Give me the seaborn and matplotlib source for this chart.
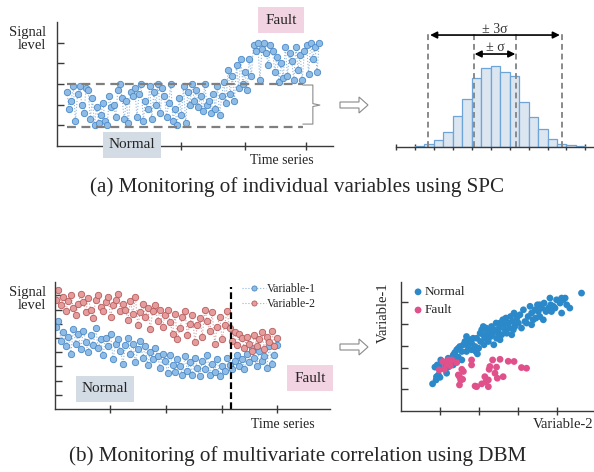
import numpy as np
import pandas as pd
import matplotlib
matplotlib.use('Agg')
import matplotlib.pyplot as plt
from matplotlib.patches import FancyArrow
import seaborn as sns

# --- (a) single variable time series (signal level per sample)
spc_signal = [
    2.6, 1.8, 2.2, 2.9, 1.2, 2.5, 2.9, 2.0, 1.6, 2.8,
    2.7, 1.3, 2.3, 1.0, 1.9, 1.1, 1.5, 2.1, 1.2, 1.0,
    2.4, 1.9, 2.0, 1.4, 2.7, 3.0, 2.3, 1.3, 2.2, 1.1,
    2.6, 2.4, 2.8, 1.4, 2.5, 3.0, 1.2, 2.2, 1.8, 2.9,
    1.3, 2.6, 2.0, 3.0, 1.6, 2.8, 2.4, 1.4, 2.1, 3.0,
    1.2, 1.8, 1.0, 2.3, 1.5, 2.9, 1.1, 2.6, 2.0, 3.0,
    2.2, 2.7, 1.9, 2.4, 1.7, 3.0, 2.0, 2.2, 1.6, 2.5,
    1.8, 2.9, 1.5, 2.4, 3.1, 2.1, 3.7, 2.5, 3.4, 2.2,
    3.9, 2.8, 4.2, 3.0, 3.6, 2.7, 4.2, 3.4, 4.9, 4.6,
    5.0, 3.2, 4.7, 5.0, 4.5, 3.9, 4.9, 4.6, 3.6, 4.3,
    3.1, 4.0, 3.3, 4.8, 3.4, 4.5, 4.1, 3.2, 4.8, 3.7,
    4.4, 3.2, 4.6, 4.9, 3.5, 5.0, 4.2, 4.8, 3.6, 5.0,
]
spc_limits = [0.92, 3.0]

# --- (a) histogram of the normal data
hist_counts = [2, 5, 11, 23, 46, 72, 103, 118, 121, 112, 106, 67, 45, 27, 12, 5, 3, 1]
sigma1 = [6.2, 10.7]
sigma3 = [1.4, 15.5]

# --- (b) two correlated variables
var2 = [
    7.7, 8.4, 7.3, 7.9, 6.9, 7.6, 8.0, 7.1, 6.6, 7.4,
    8.1, 7.5, 6.8, 7.8, 7.0, 6.4, 7.7, 8.0, 7.2, 6.9,
    7.5, 7.9, 6.5, 7.3, 7.7, 8.1, 6.9, 7.4, 7.0, 6.3,
    7.6, 6.7, 7.9, 5.9, 6.8, 7.4, 6.5, 7.1, 5.6, 6.9,
    7.3, 6.2, 7.0, 5.8, 6.6, 7.0, 6.1, 5.3, 6.7, 4.9,
    5.7, 6.5, 6.9, 5.2, 6.0, 6.6, 4.7, 5.9, 6.4, 5.1,
    7.0, 6.2, 5.5, 6.8, 4.6, 5.8, 6.5, 4.9, 5.9, 6.9,
    5.7, 4.8, 5.4, 4.5, 5.3, 5.0, 4.3, 5.1, 4.6, 4.1,
    5.2, 4.4, 4.9, 5.4, 4.2, 5.1, 4.7, 5.5, 4.4, 5.0,
]
var1 = [
    5.8, 6.2, 4.8, 5.4, 4.4, 5.1, 3.9, 5.6, 4.6, 5.3,
    4.2, 5.5, 4.7, 4.0, 5.2, 4.5, 5.7, 4.3, 4.9, 3.8,
    5.0, 4.4, 5.3, 3.5, 4.6, 4.9, 4.1, 3.2, 4.5, 5.0,
    3.9, 4.6, 3.3, 4.2, 4.8, 3.6, 4.4, 3.1, 4.0, 3.5,
    4.3, 3.7, 2.9, 3.9, 3.4, 2.5, 3.8, 3.1, 2.6, 3.5,
    3.0, 2.4, 3.7, 2.7, 3.3, 2.4, 3.6, 2.9, 2.3, 3.4,
    2.8, 3.8, 2.4, 3.2, 2.6, 3.5, 2.3, 3.0, 2.7, 3.6,
    3.1, 2.8, 3.4, 3.8, 3.0, 3.5, 2.8, 3.9, 3.3, 4.3,
    3.6, 3.0, 4.1, 3.4, 3.7, 2.9, 4.4, 3.2, 3.8, 4.5,
]
fault_start = 70.6

# --- (b) scatter Variable-2 vs Variable-1
normal_x = [0.81, 0.90, 0.91, 0.96, 1.00, 0.87, 0.93, 0.98, 1.02, 1.09, 1.13, 1.17, 1.21, 1.26,
            1.30, 1.34, 1.38, 1.43, 1.47, 1.51, 1.56, 1.47, 1.38, 1.56, 1.60, 1.64, 1.68, 1.73,
            1.77, 1.81, 1.85, 1.90, 1.92, 1.96, 1.99, 2.03, 2.04, 2.07, 2.11, 2.13, 2.15, 2.18,
            2.21, 2.24, 2.26, 2.30, 2.32, 2.35, 2.38, 2.41, 2.44, 2.45, 2.50, 2.52, 2.54, 2.58,
            2.61, 2.64, 2.67, 2.69, 2.71, 2.75, 2.78, 2.81, 2.84, 2.86, 2.90, 2.92, 2.97, 3.01,
            3.05, 3.09, 3.14, 3.18, 3.22, 3.26, 3.31, 3.35, 3.39, 3.44, 3.46, 3.50, 3.52, 3.56,
            3.61, 3.65, 3.67, 3.72, 3.78, 3.82, 3.84, 3.86, 3.91, 3.95, 4.08, 4.12, 4.16, 4.21,
            4.25, 4.12, 4.33, 4.63, 1.68, 1.81, 1.94, 2.21, 2.54, 2.88, 3.35, 3.56, 3.99, 1.34,
            1.21, 1.68, 2.11]
normal_y = [1.25, 1.43, 1.58, 1.66, 1.55, 2.02, 2.12, 2.02, 2.35, 2.23, 1.97, 1.74, 2.02, 2.20,
            2.35, 2.58, 2.69, 2.82, 2.89, 2.97, 2.74, 2.48, 2.28, 2.35, 3.05, 3.20, 3.09, 2.89,
            3.28, 3.12, 3.35, 2.97, 2.74, 2.63, 2.89, 3.58, 3.20, 3.74, 3.51, 3.05, 3.35, 3.82,
            3.58, 3.20, 3.74, 3.43, 3.89, 3.58, 3.05, 3.74, 4.05, 3.35, 3.58, 3.82, 3.28, 3.51,
            4.20, 3.97, 3.74, 4.28, 3.58, 4.05, 3.82, 4.35, 3.51, 4.12, 4.51, 3.89, 4.28, 4.05,
            4.43, 3.82, 4.66, 4.12, 4.05, 4.35, 4.82, 4.51, 4.20, 4.66, 4.28, 4.89, 4.58, 4.35,
            4.74, 4.20, 4.97, 4.58, 4.74, 5.20, 4.89, 4.58, 4.82, 4.74, 4.97, 5.20, 5.12, 5.20,
            4.89, 4.51, 4.74, 5.43, 2.74, 2.82, 3.35, 3.31, 4.05, 3.74, 3.97, 4.89, 5.12, 2.12,
            2.43, 3.43, 3.89]
fault_x = [0.98, 1.07, 1.11, 1.21, 1.26, 1.30, 1.43, 1.56, 1.60, 1.50, 1.53, 1.58, 1.50, 1.81,
           1.81, 1.94, 2.07, 2.15, 2.18, 2.24, 2.26, 2.28, 2.35, 2.41, 2.45, 2.47, 2.54, 2.62,
           2.75, 2.90, 3.09, 3.22, 2.24, 1.17, 1.47, 1.90]
fault_y = [1.89, 2.28, 1.92, 2.35, 2.08, 2.35, 2.23, 1.92, 1.82, 1.58, 1.43, 1.46, 1.20, 2.35,
           2.12, 1.12, 1.25, 1.58, 1.35, 1.12, 1.92, 2.05, 2.35, 1.74, 2.02, 1.51, 2.38, 1.58,
           2.29, 2.28, 2.00, 1.97, 1.43, 2.17, 1.66, 1.15]

blue_face, blue_edge = '#8ebce6', '#4a88c6'
red_face, red_edge = '#e69c9c', '#b65c5c'

sns.set_theme(style='white')
plt.rcParams['font.family'] = ['Liberation Serif', 'DejaVu Serif']

W, H = 594, 472
fig = plt.figure(figsize=(W / 100, H / 100), dpi=100)


def px_axes(l, t, r, b):
    return fig.add_axes([l / W, 1 - b / H, (r - l) / W, (b - t) / H])


def style_axes(ax):
    for s in ['top', 'right']:
        ax.spines[s].set_visible(False)
    for s in ['left', 'bottom']:
        ax.spines[s].set_color('#3a3a3a')
        ax.spines[s].set_linewidth(1.0)
    ax.tick_params(axis='x', direction='inout', length=6, width=1, color='#3a3a3a',
                   labelbottom=False, bottom=True)
    ax.tick_params(axis='y', direction='in', length=5, width=1, color='#3a3a3a',
                   labelleft=False, left=True)
    ax.set_xlabel('')
    ax.set_ylabel('')


# ---------------- (a) left: time series
ax1 = px_axes(57, 22, 333, 146)
t1 = np.arange(len(spc_signal))
sns.lineplot(x=t1, y=spc_signal, ax=ax1, color='#8fb6de', linestyle=':', linewidth=0.8,
             marker='o', markersize=4.6, markerfacecolor=blue_face,
             markeredgecolor=blue_edge, markeredgewidth=0.6)
for lim in spc_limits:
    ax1.hlines(lim, 0, 111.3, colors='#7f7f7f', linestyles=(0, (4, 2.5)), linewidth=1.6)
ax1.plot([111.3, 116, 116, 119.3, 116, 116, 111.3],
         [2.95, 2.95, 2.05, 1.98, 1.91, 1.06, 1.06], color='#8c8c8c', lw=0.8, clip_on=False)
ax1.set_xlim(-4.7, 125.5)
ax1.set_ylim(0, 6)
ax1.set_xticks([53.8, 84.0, 112.7])
ax1.set_yticks([1, 2, 3, 4, 5])
style_axes(ax1)

# ---------------- (a) right: histogram
ax2 = px_axes(396, 27, 593, 147)
hist_df = pd.DataFrame({'bin': np.arange(len(hist_counts)) + 0.5, 'count': hist_counts})
sns.histplot(data=hist_df, x='bin', weights='count', bins=len(hist_counts),
             binrange=(0, len(hist_counts)),
             ax=ax2, color='#dbe6f1', edgecolor='#6ea5d6', linewidth=0.9, alpha=1)
ax2.set_xlim(-1.93, 18.8)
ax2.set_ylim(0, 179)
style_axes(ax2)
ax2.spines['left'].set_visible(False)
ax2.set_yticks([])
ax2.set_xticks(np.arange(-2, 19, 2))
ax2.tick_params(axis='x', length=5)
for xv in sigma1 + sigma3:
    ax2.vlines(xv, 0, 170, colors='#8a8a8a', linestyles=(0, (3, 2)), linewidth=1.4)
ax2.annotate('', xy=(sigma3[0] + 0.2, 167), xytext=(sigma3[1] - 0.2, 167),
             arrowprops=dict(arrowstyle='<|-|>', color='black', lw=1.2, mutation_scale=10,
                             shrinkA=0, shrinkB=0))
ax2.annotate('', xy=(sigma1[0] + 0.1, 138.7), xytext=(sigma1[1] - 0.1, 138.7),
             arrowprops=dict(arrowstyle='<|-|>', color='black', lw=1.2, mutation_scale=10,
                             shrinkA=0, shrinkB=0))
ax2.text(8.45, 176, '± 3σ', ha='center', va='center', fontsize=10, color='#333333')
ax2.text(8.45, 148, '± σ', ha='center', va='center', fontsize=10, color='#333333')

# ---------------- (b) left: two variables
ax3 = px_axes(55, 282, 330, 409)
t2 = np.arange(len(var1))
sns.lineplot(x=t2, y=var1, ax=ax3, color='#8fb6de', linestyle=':', linewidth=0.8,
             marker='o', markersize=4.6, markerfacecolor=blue_face,
             markeredgecolor=blue_edge, markeredgewidth=0.6, label='Variable-1')
sns.lineplot(x=t2, y=var2, ax=ax3, color='#d99a9a', linestyle=':', linewidth=0.8,
             marker='o', markersize=4.6, markerfacecolor=red_face,
             markeredgecolor=red_edge, markeredgewidth=0.6, label='Variable-2')
ax3.vlines(fault_start, 0, 8.6, colors='black', linestyles=(0, (3, 1.5)), linewidth=1.6)
ax3.set_xlim(-0.4, 110.5)
ax3.set_ylim(0, 8.94)
ax3.set_xticks([21.8, 44.4, 66.9, 89.1])
ax3.set_yticks(range(1, 9))
style_axes(ax3)
ax3.legend(loc='upper left', bbox_to_anchor=(0.66, 1.04), frameon=False, fontsize=8.5,
           handlelength=2.0, handletextpad=0.1, labelspacing=0.25, borderpad=0, markerscale=0.8)

# ---------------- (b) right: scatter
ax4 = px_axes(401, 282, 594, 411)
sns.scatterplot(x=normal_x, y=normal_y, ax=ax4, color='#2b89c9', s=24, edgecolor='none',
                label='Normal')
sns.scatterplot(x=fault_x, y=fault_y, ax=ax4, color='#e0508a', s=24, edgecolor='none',
                label='Fault')
ax4.set_xlim(0, 4.95)
ax4.set_ylim(0, 5.94)
ax4.set_xticks([1, 2, 3, 4])
ax4.set_yticks([1, 2, 3, 4, 5])
style_axes(ax4)
ax4.legend(loc='upper left', bbox_to_anchor=(0.02, 1.04), frameon=False, fontsize=9.5,
           handlelength=0.6, handletextpad=0.2, labelspacing=0.45, borderpad=0.2)

# ---------------- texts, boxes and arrows
fs = 10.5
for y in [39, 299]:
    fig.text(46 / W, 1 - y / H, 'Signal\nlevel', ha='right', va='center', fontsize=fs,
             linespacing=1.05)
fig.text(282 / W, 1 - 160 / H, 'Time series', ha='center', va='center', fontsize=10)
fig.text(283 / W, 1 - 424 / H, 'Time series', ha='center', va='center', fontsize=10)

fig.text(281 / W, 1 - 20 / H, 'Fault', ha='center', va='center', fontsize=11, zorder=5,
         bbox=dict(boxstyle='square,pad=0.45', fc='#f2d3e1', ec='none'))
fig.text(132 / W, 1 - 145 / H, 'Normal', ha='center', va='center', fontsize=11, zorder=5,
         bbox=dict(boxstyle='square,pad=0.4', fc='#d3dbe5', ec='none'))
fig.text(105 / W, 1 - 389 / H, 'Normal', ha='center', va='center', fontsize=11, zorder=5,
         bbox=dict(boxstyle='square,pad=0.4', fc='#d3dbe5', ec='none'))
fig.text(310 / W, 1 - 378 / H, 'Fault', ha='center', va='center', fontsize=11, zorder=5,
         bbox=dict(boxstyle='square,pad=0.45', fc='#f2d3e1', ec='none'))

fig.text(383 / W, 1 - 313 / H, 'Variable-1', ha='center', va='center', rotation=90,
         fontsize=10.5)
fig.text(563 / W, 1 - 425 / H, 'Variable-2', ha='center', va='center', fontsize=10.5)

for y in [105, 347]:
    fig.patches.append(FancyArrow(3.40, (H - y) / 100, 0.19, 0, width=0.06,
                                  head_width=0.16, head_length=0.09, length_includes_head=False,
                                  fc='white', ec='#8a8a8a', lw=0.8,
                                  transform=fig.dpi_scale_trans))

fig.text(297 / W, 1 - 187 / H, '(a) Monitoring of individual variables using SPC',
         ha='center', va='center', fontsize=15.2)
fig.text(298 / W, 1 - 456 / H, '(b) Monitoring of multivariate correlation using DBM',
         ha='center', va='center', fontsize=15.2)

fig.savefig('out.png', dpi=100)
